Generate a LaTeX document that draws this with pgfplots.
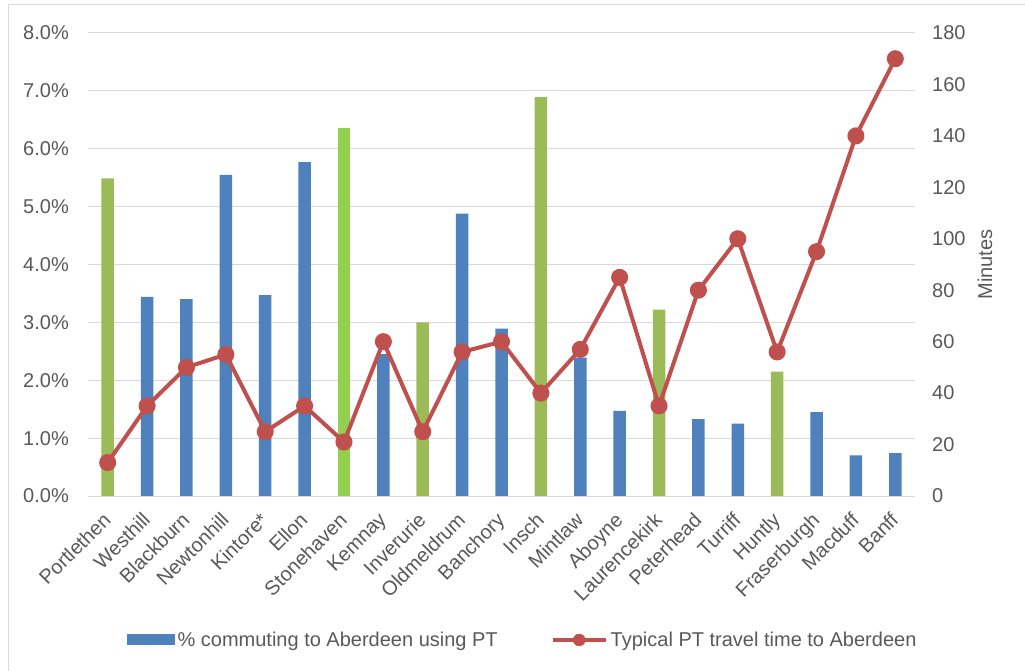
\documentclass[border=0pt]{standalone}
\usepackage{pgfplots}
\pgfplotsset{compat=1.18}
\usepackage{fontspec}
\setmainfont{Liberation Sans}
\definecolor{barblue}{HTML}{4F81BD}
\definecolor{bargreen}{HTML}{9BBB59}
\definecolor{brightgreen}{HTML}{92D050}
\definecolor{linered}{HTML}{C0504D}
\definecolor{gridgrey}{HTML}{D9D9D9}
\definecolor{textgrey}{HTML}{595959}
\begin{document}
\begin{tikzpicture}
\useasboundingbox (0,0) rectangle (1025bp,671bp);
\draw[gridgrey, line width=1bp] (8bp,0bp) -- (8bp,666bp) -- (1025bp,666bp);
\pgfplotsset{
  every axis/.append style={
    font=\fontsize{20bp}{24bp}\selectfont,
    /pgf/number format/assume math mode=true,
    at={(88bp,175bp)}, anchor=south west,
    scale only axis, width=827bp, height=463bp,
    xmin=-0.5, xmax=20.5,
    major tick length=0pt,
    tick label style={text=textgrey},
    label style={text=textgrey},
  }
}
\begin{axis}[
  ymin=0, ymax=8,
  ytick={0,1,2,3,4,5,6,7,8},
  yticklabel={\pgfmathprintnumber[fixed,fixed zerofill,precision=1]{\tick}\%},
  yticklabel style={anchor=east, inner sep=0pt, xshift=-19bp},
  ymajorgrids, grid style={gridgrey, line width=1bp},
  axis line style={draw=none},
  xtick={0,...,20},
  xticklabels={Portlethen,Westhill,Blackburn,Newtonhill,Kintore*,Ellon,Stonehaven,Kemnay,Inverurie,Oldmeldrum,Banchory,Insch,Mintlaw,Aboyne,Laurencekirk,Peterhead,Turriff,Huntly,Fraserburgh,Macduff,Banff},
  xticklabel style={xshift=-6bp, yshift=-15bp, rotate=45, anchor=north east, inner sep=0pt},
  legend columns=2,
  legend style={at={(axis description cs:0.526,-0.311)}, anchor=center, draw=none, fill=none,
    text=textgrey, nodes={inner sep=3bp},
    /tikz/every even column/.append style={column sep=50bp}},
]
\addplot[ybar, bar width=12.5bp, bar shift=0pt, fill=barblue, draw=none,
  legend image code/.code={\fill[barblue] (0bp,-5.5bp) rectangle (48bp,5.5bp);}]
  coordinates {(1,3.44) (2,3.40) (3,5.55) (4,3.47) (5,5.77) (7,2.45) (9,4.88) (10,2.89) (12,2.39) (13,1.47) (15,1.33) (16,1.25) (18,1.45) (19,0.70) (20,0.74)};
\addlegendentry{\% commuting to Aberdeen using PT}
\addplot[ybar, bar width=12.5bp, bar shift=0pt, fill=bargreen, draw=none, forget plot]
  coordinates {(0,5.49) (8,3.00) (11,6.89) (14,3.22) (17,2.15)};
\addplot[ybar, bar width=12.5bp, bar shift=0pt, fill=brightgreen, draw=none, forget plot]
  coordinates {(6,6.36)};
\addlegendimage{legend image code/.code={\draw[linered, line width=4bp] (0bp,0bp) -- (53bp,0bp); \fill[linered] (26.5bp,0bp) circle (6bp);}}
\addlegendentry{Typical PT travel time to Aberdeen}
\end{axis}
\begin{axis}[
  ymin=0, ymax=180,
  ytick={0,20,...,180},
  axis y line*=right, axis x line=none,
  axis line style={draw=none},
  yticklabel style={anchor=west, inner sep=0pt, xshift=17bp},
  ylabel={Minutes},
  ylabel style={at={(axis description cs:1,0.5)}, anchor=center, yshift=-70bp},
]
\addplot[linered, line width=4bp, mark=*, mark size=6.5bp, mark options={fill=linered, draw=none}]
  coordinates {(0,13) (1,35) (2,50) (3,55) (4,25) (5,35) (6,21) (7,60) (8,25) (9,56) (10,60) (11,40) (12,57) (13,85) (14,35) (15,80) (16,100) (17,56) (18,95) (19,140) (20,170)};
\end{axis}
\end{tikzpicture}
\end{document}
